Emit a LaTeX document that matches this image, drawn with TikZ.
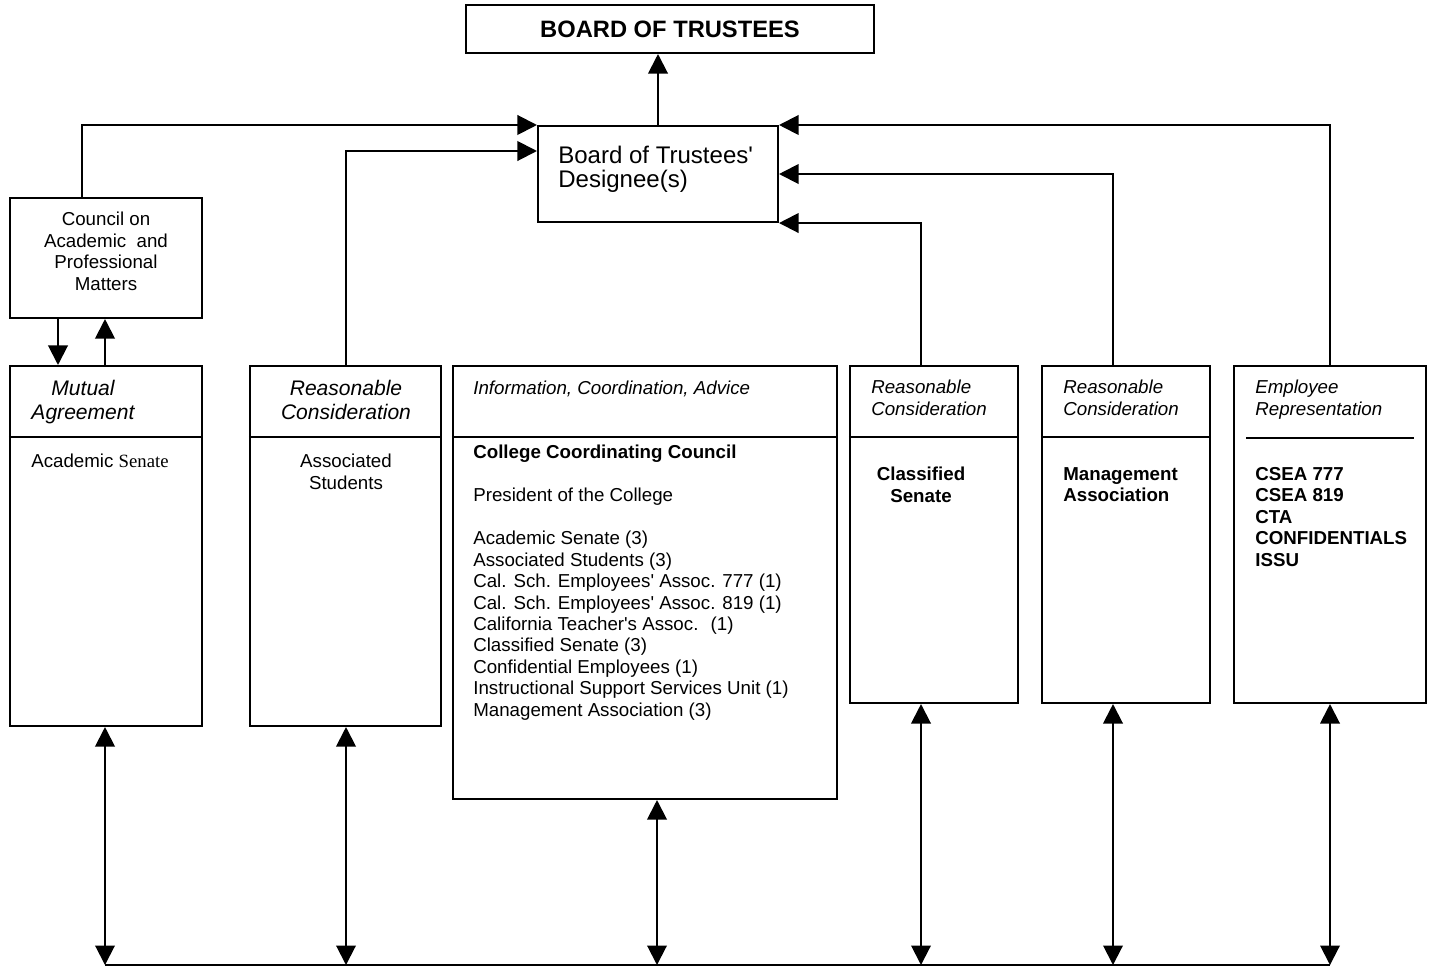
\documentclass[tikz,border=0pt]{standalone}
\usepackage{fontspec}
\setmainfont{Liberation Sans}
\newfontfamily\timesfam{Liberation Serif}
\usetikzlibrary{fit, positioning, arrows.meta}
\tikzset{
box/.style={draw, line width=1.3pt, inner sep=0pt}, sep/.style={line width=1.1pt},
link/.style={line width=1.3pt, -{Triangle[length=12.5pt, width=12.5pt]}},
both/.style={line width=1.3pt, {Triangle[length=12.5pt, width=12.5pt]}-{Triangle[length=12.5pt, width=12.5pt]}},
txt/.style={inner sep=0pt, anchor=north west, align=left, font=\fontsize{12}{13.75}\selectfont},
hdr/.style={txt, font=\itshape\fontsize{12}{14.1}\selectfont},
bighdr/.style={txt, anchor=north, align=center, font=\itshape\fontsize{13.5}{15.4}\selectfont},
bold/.style={txt, font=\bfseries\fontsize{12}{13.8}\selectfont}}
\newcommand{\apos}{\textquotesingle}

\begin{document}
\begin{tikzpicture}[x=0.641pt, y=-0.641pt]
\useasboundingbox (0,0) rectangle (1433,967);
% top boxes
\node [box, fit={(466,5) (874,53)}] (bot) {};
\node [font=\bfseries\fontsize{15.2}{17}\selectfont, inner sep=0pt] (bottxt) at (bot.center) {BOARD OF TRUSTEES};
\node [box, fit={(538,126) (778,222)}] (des) {};
\node [txt, font=\fontsize{15.4}{15.4}\selectfont] (destxt) at (558,146) {Board of Trustees\apos\\Designee(s)};
\node [box, fit={(10,198) (202,318)}] (cap) {};
\node [txt, anchor=north, align=center] (captxt) at (106,212) {Council on\\Academic \ and\\Professional\\Matters};
% constituent boxes
\foreach \n/\l/\r/\b in {acsen/10/202/726, assoc/250/441/726, ccc/453/837/799, clsen/850/1018/703, mgmt/1042/1210/703, emp/1234/1426/703}
  \node [box, fit={(\l,366) (\r,\b)}] (\n) {};
\foreach \n in {acsen, assoc, ccc, clsen, mgmt}
  \draw [sep] (\n.west |- 0,437) -- (\n.east |- 0,437);
\draw [sep] (1246,438) -- (1414,438);
\node [bighdr] (acsenh) at (83,380) {Mutual\\Agreement};
\node [txt] (acsent) at (31,454) {Academic {\timesfam Senate}};
\node [bighdr] (assoch) at (346,380) {Reasonable\\Consideration};
\node [txt, anchor=north, align=center] (assoct) at (346,454) {Associated\\Students};
\node [hdr] (ccch) at (473,381) {Information, Coordination, Advice};
\node [txt] (ccct) at (473,445) {\textbf{College Coordinating Council}\\[13.75pt]
  President of the College\\[13.75pt]
  Academic Senate (3)\\Associated Students (3)\\Cal. Sch. Employees\apos\ Assoc. 777 (1)\\
  Cal. Sch. Employees\apos\ Assoc. 819 (1)\\California Teacher\apos s Assoc. \ (1)\\Classified Senate (3)\\
  Confidential Employees (1)\\Instructional Support Services Unit (1)\\Management Association (3)};
\node [hdr] (clsenh) at (871,380) {Reasonable\\Consideration};
\node [bold, anchor=north, align=center] (clsent) at (921,467) {Classified\\Senate};
\node [hdr] (mgmth) at (1063,380) {Reasonable\\Consideration};
\node [bold] (mgmtt) at (1063,467) {Management\\Association};
\node [hdr] (emph) at (1255,380) {Employee\\Representation};
\node [bold] (empt) at (1255,467) {CSEA 777\\CSEA 819\\CTA\\CONFIDENTIALS\\ISSU};
% links up to the designee
\draw [link] (des.north) -- (des.north |- bot.south);
\draw [link] (cap.north -| 82,0) |- (des.north west);
\draw [link] (assoc.north -| 346,0) |- (des.west |- 0,151);
\draw [link] (clsen.north -| 921,0) |- (des.south east);
\draw [link] (mgmt.north -| 1113,0) |- (des.east |- 0,174);
\draw [link] (emp.north) |- (des.north east);
\draw [link] (cap.south -| 58,0) -- (acsen.north -| 58,0);
\draw [link] (acsen.north -| 105,0) -- (cap.south -| 105,0);
% bottom bus
\foreach \n/\x in {acsen/105, assoc/346, ccc/657, clsen/921, mgmt/1113, emp/1330} {
  \coordinate (bus-\n) at (\x,965);
  \draw [both] (\n.south -| \x,0) -- (bus-\n);
}
\draw [line width=1.3pt] (bus-acsen) -- (bus-emp);
\end{tikzpicture}
\end{document}
